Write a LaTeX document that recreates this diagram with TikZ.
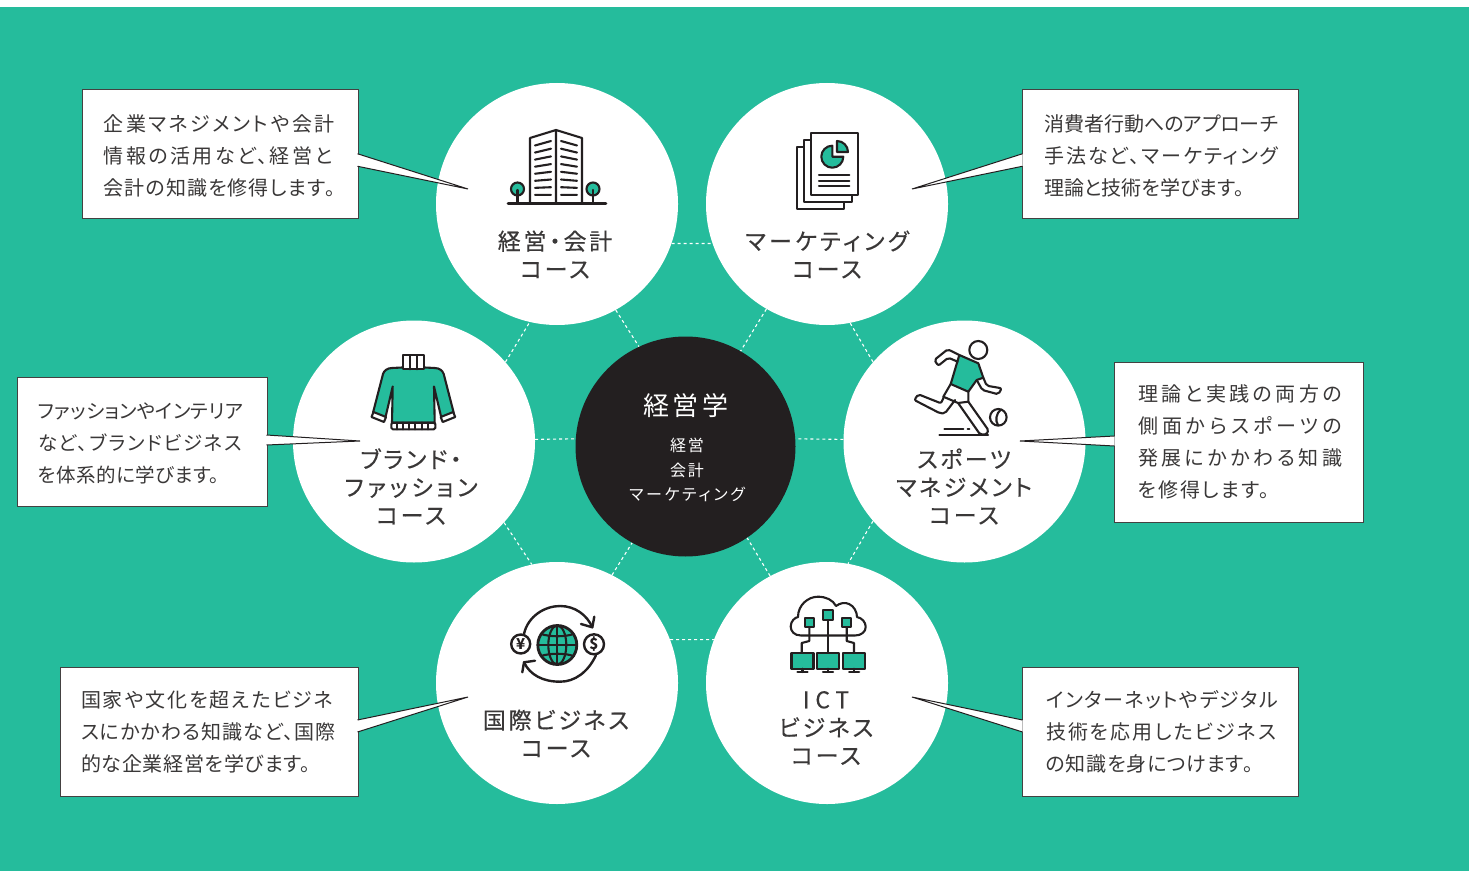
\documentclass[tikz,border=0pt]{standalone}
\usepackage{fontspec}
\setmainfont{Noto Sans CJK JP}[RawFeature=+palt]
\usetikzlibrary{positioning}
\definecolor{teal}{HTML}{25BC9C}
\definecolor{ink}{HTML}{231F20}
\definecolor{txt}{HTML}{3A3838}
\newcommand{\fs}[2]{\fontsize{#1}{#2}\selectfont}
\newcommand{\ls}[2]{{\addfontfeature{LetterSpace=#1}#2}}
\newcommand{\lb}[2]{{\addfontfeature{LetterSpace=#1,FakeBold=0.25}#2}}
\tikzset{
        course/.style={circle, fill=white, inner sep=0pt, minimum size=242pt},
        hub/.style={circle, fill=ink, inner sep=0pt, minimum size=220pt},
        hexline/.style={draw=white, line width=1.1pt, dash pattern=on 3pt off 3pt},
        note/.style={draw=ink!85, line width=1pt, fill=white, inner sep=0pt, align=left, text=txt},
        tail/.style={draw=ink, line width=1pt, fill=white, line join=miter},
        title/.style={align=center, text=txt, inner sep=0pt, font=\fs{23}{28}},
        icon/.style={draw=ink, line width=2.1pt, line join=round, line cap=round},
        iconfill/.style={icon, fill=teal},
        iconwhite/.style={icon, fill=white}
        }
\begin{document}
\begin{tikzpicture}[x=1pt,y=-1pt]
        \useasboundingbox (0,0) rectangle (1469,872);
        \fill[teal] (0,7) rectangle (1469,871);
        % circles
        \node[course](acc) at (557,204){};
        \node[course](mkt) at (827,204){};
        \node[course](bra) at (414,441.5){};
        \node[course](spo) at (964.5,441.5){};
        \node[course](glo) at (557,683){};
        \node[course](ict) at (827,683){};
        \node[hub](core) at (685.5,446.5){};
        % dotted hexagon
        \draw[hexline] (acc.-19)--(mkt.199) (glo.21)--(ict.159)
              (acc.-61)--(core.115) (mkt.-120)--(core.60)
              (bra.41)--(acc.257) (spo.139)--(mkt.-79)
              (bra.1)--(core.176) (spo.179)--(core.4)
              (bra.-42)--(glo.102) (spo.221)--(ict.80)
              (glo.63)--(core.241) (ict.118)--(core.-56);
        % texts in the circles
        \node[text=white, inner sep=0pt, font=\fs{26}{30}](coret) at (686,406){\ls{13}{経営学}};
        \node[text=white, align=center, inner sep=0pt, font=\fs{16}{24.2}](cores) at (687,470){\ls{10}{経営}\\\ls{10}{会計}\\\ls{17}{マーケティング}};
        \node[title](acct) at (555,254.5){\lb{12}{経営・会計}\\\lb{12}{コース}};
        \node[title](mktt) at (827,254.5){\lb{15}{マーケティング}\\\lb{12}{コース}};
        \node[title](brat) at (411,486.5){\lb{12}{ブランド・}\\\lb{16}{ファッション}\\\lb{12}{コース}};
        \node[title](spot) at (964,486.5){\lb{11}{スポーツ}\\\lb{11}{マネジメント}\\\lb{12}{コース}};
        \node[title](glot) at (556,733.5){\lb{12}{国際ビジネス}\\\lb{12}{コース}};
        \node[title](ictt) at (826,728){\lb{25}{ICT}\\\lb{12}{ビジネス}\\\lb{12}{コース}};
        % notes
        \node[note, text width=233pt, minimum height=128.5pt, inner xsep=21.5pt, font=\fs{20}{32}](accn) at (220,153.75){\rule{0pt}{20.5pt}\ls{12.5}{企業マネジメントや会計}\\\ls{12.5}{情報の活用など、経営と}\\\ls{5.5}{会計の知識を修得します。}};
        \node[note, text width=232pt, minimum height=128.5pt, inner xsep=22pt, font=\fs{20}{32}](mktn) at (1160,153.75){\rule{0pt}{20.5pt}\ls{0}{消費者行動へのアプローチ}\\\ls{10.5}{手法など、マーケティング}\\\ls{0}{理論と技術を学びます。}};
        \node[note, text width=208pt, minimum height=128.5pt, inner xsep=21pt, font=\fs{19.5}{32}](bran) at (142,442){\rule{0pt}{19pt}\ls{1.5}{ファッションやインテリア}\\\ls{9.5}{など、ブランドビジネス}\\\ls{2.5}{を体系的に学びます。}};
        \node[note, text width=201pt, minimum height=160pt, inner xsep=24pt, font=\fs{20}{32}](spon) at (1238.5,442){\ls{17.5}{理論と実践の両方の}\\\ls{20.5}{側面からスポーツの}\\\ls{17.5}{発展にかかわる知識}\\\ls{9.5}{を修得します。}};
        \node[note, text width=256pt, minimum height=128.5pt, inner xsep=21pt, font=\fs{20}{32}](glon) at (209,732){\ls{9.5}{国家や文化を超えたビジネ}\\\ls{5.5}{スにかかわる知識など、国際}\\\ls{3.5}{的な企業経営を学びます。}};
        \node[note, text width=228pt, minimum height=128.5pt, inner xsep=24pt, font=\fs{20}{32}](ictn) at (1160,732){\ls{7.5}{インターネットやデジタル}\\\ls{10.5}{技術を応用したビジネス}\\\ls{3.5}{の知識を身につけます。}};
        % note tails
        \coordinate (acctip) at (468,189);
        \coordinate (mkttip) at (912,189);
        \coordinate (bratip) at (360,441);
        \coordinate (spotip) at (1020,441);
        \coordinate (glotip) at (468,697);
        \coordinate (icttip) at (912,697);
        \draw[tail] ([xshift=-1pt]accn.east)--(acctip)--([xshift=-1pt,yshift=-12.5pt]accn.east);
        \draw[tail] ([xshift=1pt]mktn.west)--(mkttip)--([xshift=1pt,yshift=-12.5pt]mktn.west);
        \draw[tail] ([xshift=-1pt,yshift=7pt]bran.east)--(bratip)--([xshift=-1pt,yshift=-3pt]bran.east);
        \draw[tail] ([xshift=1pt,yshift=6pt]spon.west)--(spotip)--([xshift=1pt,yshift=-4pt]spon.west);
        \draw[tail] ([xshift=-1pt,yshift=12pt]glon.east)--(glotip)--([xshift=-1pt]glon.east);
        \draw[tail] ([xshift=1pt,yshift=12pt]ictn.west)--(icttip)--([xshift=1pt]ictn.west);
        % building
        \draw[icon,line width=2.6pt] (508,203.5)--(606,203.5);
        \draw[icon] (530,203.5)--(530,138)--(556,130)--(582,138)--(582,203.5) (556,130)--(556,203.5);
        \foreach \i in {0,...,7}{
          \draw[icon] (535,141+\i*7.7+4.5-\i*0.64)--(551,141+\i*7.7);
          \draw[icon] (577,141+\i*7.7+4.5-\i*0.64)--(561,141+\i*7.7);
        }
        \foreach \x in {517.5,593}{
          \draw[icon] (\x,203.5)--(\x,195);
          \draw[iconfill] (\x,189) circle (6.5);
          \draw[icon] (\x,195)--(\x,190);
        }
        % papers
        \draw[iconwhite] (796.7,147.3) rectangle (844,209);
        \draw[iconwhite] (804,140) rectangle (851.7,202);
        \draw[iconwhite] (810.7,132.7) rectangle (857.7,195);
        \draw[iconfill] (832.3,156.7)--(832.3,145.7) arc (-90:-360:11)--cycle;
        \draw[iconfill] (837,152)--(837,141) arc (-90:0:11)--cycle;
        \foreach \y in {175,180.7,186.3}{\draw[icon] (819,\y)--(849.3,\y);}
        % sweater
        \draw[iconfill] (402,367.5)--(392,368) .. controls (387,368) and (384,371) .. (383,374)--(373,412.7)--(385.3,418)--(392.7,386.5)--(392,422.7)--(434.7,422.7)--(434,386.5)--(441.4,418)--(453.7,412.7)--(443.7,374) .. controls (442.7,371) and (439.7,368) .. (434.7,368)--(424.7,367.5)--cycle;
        \draw[iconwhite] (402.7,355.3) rectangle (424,369.3);
        \draw[icon] (409.7,355.3)--(409.7,369.3) (416.9,355.3)--(416.9,369.3);
        \draw[iconwhite] (371.5,417)--(373.5,412)--(386,417)--(384,422)--cycle;
        \draw[iconwhite] (455.2,417)--(453.2,412)--(440.7,417)--(442.7,422)--cycle;
        \draw[iconwhite,rounded corners=1.5pt] (391.3,422.7) rectangle (435.4,429.3);
        \foreach \x in {397.3,403.3,409.3,415.3,421.7,428}{\draw[icon] (\x,422.7)--(\x,429.3);}
        % runner
        \draw[icon] (978.3,350) circle (9);
        \draw[iconfill] (959.3,355)--(978.3,363.3)--(983.3,377.7)--(976.7,380)--(968.3,391.7)--(950.7,384)--cycle;
        \draw[icon,rounded corners=2pt] (959.3,355)--(947.7,349.3)--(934.3,360)--(938.3,365.7)--(948.3,357.7)--(957.7,361.7);
        \draw[icon,rounded corners=2pt] (976.7,380)--(982.3,390)--(998.3,394.3)--(1001.7,388.3)--(986.7,385.7)--(983.3,377.7);
        \draw[icon] (950.7,384)--(943.3,396.7)--(958,403)--(968.3,401.7)--(968.3,391.7);
        \draw[icon,rounded corners=2pt] (944,396.7)--(941,403.3)--(918.3,394.3)--(914.3,400)--(940,413.3)--(945,413.3)--(955,400);
        \draw[icon,rounded corners=1.5pt] (958.3,403.3)--(980,434.3)--(986.7,434.3)--(988.3,430)--(968.3,401.7);
        \draw[icon] (939.3,435)--(988,435) (944.3,429.3)--(963.3,429.3) (967.7,429.3)--(969.3,429.3);
        \draw[icon] (998.3,417.3) circle (8.3);
        \draw[icon] (1001,409.5) .. controls (996,413) and (995,421) .. (998,425);
        % globe
        \draw[iconfill,line width=2.8pt] (557.3,645) circle (19.5);
        \draw[icon] (557.3,625.5)--(557.3,664.5) (537.8,645)--(576.8,645);
        \draw[icon] (557.3,645) ellipse (9 and 19.5);
        \draw[icon] (541,634) .. controls (550,637) and (565,637) .. (573.6,634);
        \draw[icon] (541,656) .. controls (550,653) and (565,653) .. (573.6,656);
        \node[draw=ink, line width=2.4pt, circle, fill=white, inner sep=0pt, minimum size=19pt, font=\fs{15}{15}\bfseries, text=ink](yen) at (520.7,644){¥};
        \node[draw=ink, line width=2.4pt, circle, fill=white, inner sep=0pt, minimum size=20pt, font=\fs{15}{15}\bfseries, text=ink](usd) at (594,644.3){\$};
        \draw[icon,line width=2.4pt] (yen.72) .. controls (528,616) and (545,606) .. (560,606) .. controls (575,606) and (587,615) .. (592.3,627.3);
        \draw[icon,line width=2.4pt] (581,624)--(592.3,627.3)--(594.3,616.7);
        \draw[icon,line width=2.4pt] (usd.-80) .. controls (588,672) and (575,681.7) .. (560,681.7) .. controls (543,681.7) and (530,675) .. (524,662.3);
        \draw[icon,line width=2.4pt] (535,660.7)--(524,662.3)--(522.3,672.3);
        % cloud
        \draw[icon] (801,635.5) .. controls (794,635.5) and (790.7,631) .. (790.7,626.5) .. controls (790.7,621) and (795,617.5) .. (798,617) .. controls (798,605) and (808,596.7) .. (818,596.7) .. controls (826,596.7) and (833,600) .. (836,606) .. controls (840,603) and (845,602) .. (849,604) .. controls (854,606) and (857,612) .. (857,617) .. controls (862,618) and (865.7,622) .. (865.7,627) .. controls (865.7,632) and (861,635.5) .. (855,635.5)--cycle;
        \draw[icon] (809.3,627)--(809.3,641)--(801.7,643)--(801.7,653);
        \draw[icon] (846.7,627)--(846.7,641)--(854,643)--(854,653);
        \draw[icon] (828,620)--(828,653);
        \draw[iconfill] (804.8,618.2) rectangle (813.8,627.2);
        \draw[iconfill] (823,610) rectangle (833,620);
        \draw[iconfill] (842.2,618.2) rectangle (851.2,627.2);
        \foreach \x/\w in {802.5/11,828/11,854.2/11}{
          \draw[iconfill] (\x-\w,652.7) rectangle (\x+\w,668.7);
          \draw[icon] (\x,668.7)--(\x,672) (\x-5,672)--(\x+5,672);
        }
      \end{tikzpicture}
\end{document}
